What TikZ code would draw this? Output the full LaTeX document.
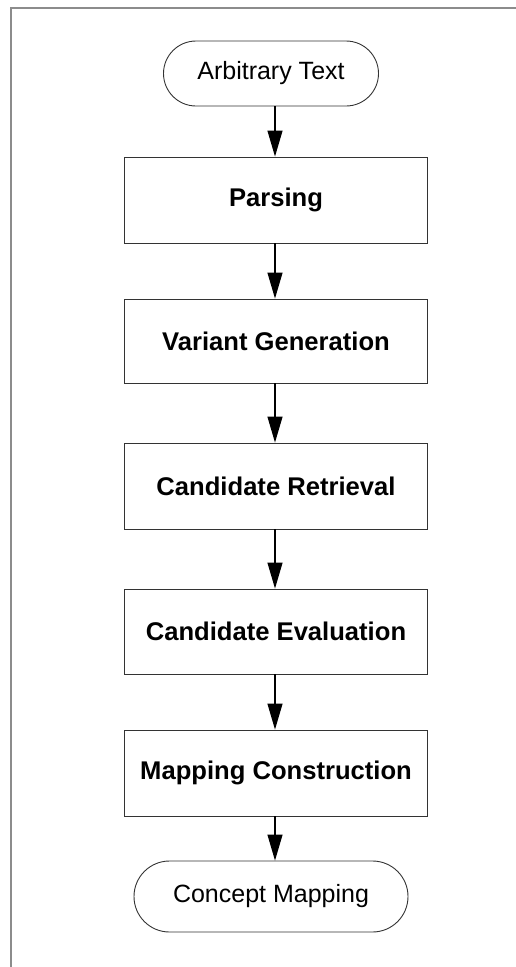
\documentclass[tikz,border=0pt]{standalone}
\usepackage{fontspec}
\setmainfont{Liberation Sans}
\usetikzlibrary{arrows.meta,shapes.misc}
\begin{document}
\begin{tikzpicture}[x=1pt,y=-1pt,
  stepbox/.style={draw=black!80, line width=0.9pt, minimum width=303pt, minimum height=86pt, inner sep=0pt, font=\fontsize{25.6}{28}\selectfont\bfseries},
  term/.style={draw=black!80, line width=0.9pt, rounded rectangle, inner sep=0pt, font=\fontsize{25}{28}\selectfont},
  flow/.style={-{Triangle[length=26pt,width=15pt]}, line width=1.2pt, black},
  frame/.style={draw=black!45, line width=1.6pt}
]
\useasboundingbox (0,0) rectangle (516,967);
\draw[frame] (11,967) -- (11,8) -- (516,8);
\node[term, minimum width=215pt, minimum height=65pt] (start) at (271,73.5) {Arbitrary Text};
\node[stepbox] (p) at (276,200) {Parsing};
\node[stepbox, minimum height=84pt] (vg) at (276,341) {Variant Generation};
\node[stepbox] (cr) at (276,486) {Candidate Retrieval};
\node[stepbox, minimum height=85pt] (ce) at (276,631.5) {Candidate Evaluation};
\node[stepbox] (mc) at (276,773) {Mapping Construction};
\node[term, minimum width=274pt, minimum height=71pt] (end) at (271,896.5) {Concept Mapping};
\coordinate (a0) at (275,106);
\draw[flow] (a0) -- (p.north -| a0);
\draw[flow] (p.south -| a0) -- (vg.north -| a0);
\draw[flow] (vg.south -| a0) -- (cr.north -| a0);
\draw[flow] (cr.south -| a0) -- (ce.north -| a0);
\draw[flow] (ce.south -| a0) -- (mc.north -| a0);
\draw[flow] (mc.south -| a0) -- (end.north -| a0);
\end{tikzpicture}
\end{document}
